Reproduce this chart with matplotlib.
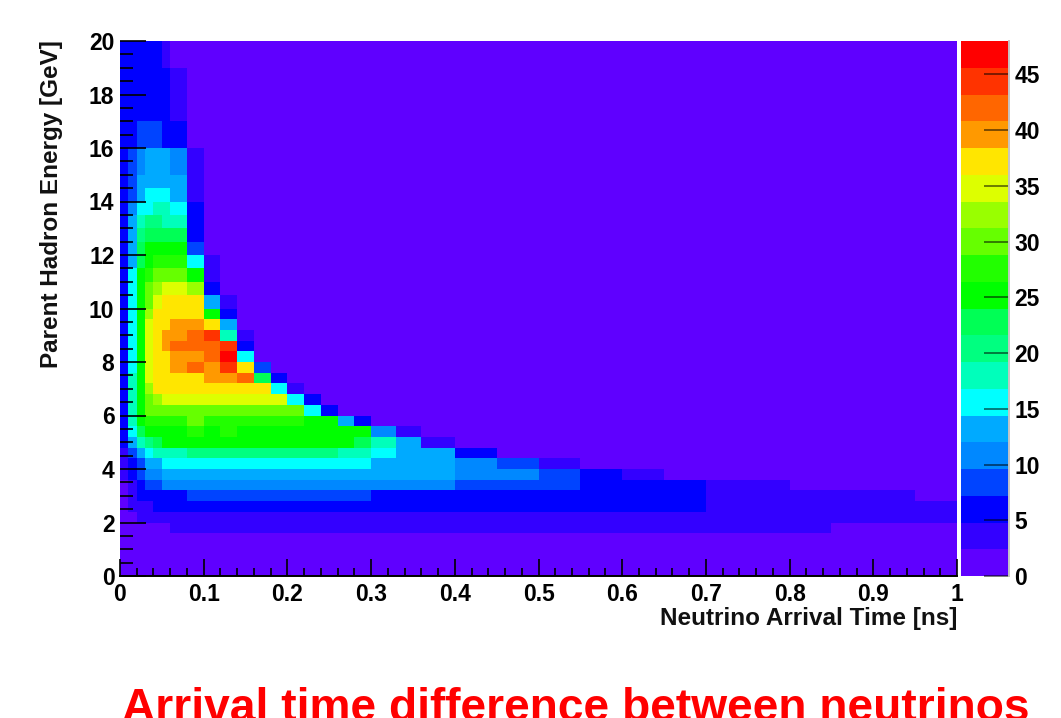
import numpy as np
import matplotlib
matplotlib.use("Agg")
import matplotlib.pyplot as plt
from matplotlib.colors import ListedColormap, BoundaryNorm

plt.rcParams['font.family'] = ['Liberation Sans', 'DejaVu Sans']
plt.rcParams['font.weight'] = 'bold'

W, H = 1061, 718

# bin edges
time_edges = [0, .01, .02, .03, .04, .05, .06, .08, .10, .12, .14, .16, .18, .20, .22, .24, .26,
              .28, .30, .33, .36, .40, .45, .50, .55, .60, .65, .70, .75, .80, .85, .90, .95, 1.0]
energy_edges = [0, 1.2, 1.6, 2.0, 2.4, 2.8, 3.2, 3.6, 4.0, 4.4, 4.8, 5.2, 5.6, 6.0, 6.4, 6.8,
                7.2, 7.6, 8.0, 8.4, 8.8, 9.2, 9.6, 10, 10.5, 11, 11.5, 12, 12.5, 13, 13.5,
                14, 14.5, 15, 16, 17, 18, 19, 20]

# counts per energy row, bottom to top; rows stop at the ridge, beyond it is background
counts = [
    [1],
    [1],
    [1, 1, 1, 1, 2, 2, 3, 3, 3, 3, 3, 3, 3, 3, 3, 3, 3, 3, 3, 3, 3, 3, 3, 3, 3, 3, 3, 3, 3, 3, 2, 2, 2],
    [1, 2, 3, 3, 3, 3, 3, 4, 4, 4, 4, 4, 4, 4, 4, 4, 4, 4, 4, 4, 4, 4, 4, 4, 4, 4, 4, 4, 3, 3, 3, 3, 3],
    [2, 3, 3, 4, 5, 5, 6, 6, 6, 6, 6, 6, 6, 6, 6, 6, 6, 6, 6, 6, 6, 6, 6, 6, 6, 6, 5, 4, 4, 4, 4, 4, 4],
    [2, 3, 5, 6, 6, 7, 7, 8, 8, 8, 8, 8, 8, 8, 8, 8, 8, 8, 7, 7, 7, 7, 7, 6, 6, 6, 5, 4, 4, 4, 4, 3, 1],
    [2, 4, 7, 8, 9, 10, 10, 10, 10, 10, 10, 10, 10, 10, 10, 10, 10, 10, 10, 10, 10, 9, 9, 8, 7, 6, 5, 3, 3],
    [3, 5, 8, 10, 11, 12, 12, 13, 14, 14, 14, 14, 14, 13, 13, 13, 13, 13, 12, 12, 12, 11, 10, 9, 6, 3],
    [3, 6, 9, 12, 13, 15, 16, 16, 16, 16, 16, 16, 16, 16, 16, 16, 15, 15, 14, 14, 12, 11, 9, 4],
    [4, 8, 13, 16, 17, 18, 19, 20, 20, 20, 20, 20, 20, 20, 20, 20, 19, 18, 16, 14, 12, 5],
    [5, 12, 18, 21, 23, 24, 25, 25, 25, 25, 25, 25, 25, 25, 25, 24, 24, 22, 19, 12, 4],
    [6, 15, 22, 25, 25, 26, 26, 27, 26, 27, 26, 26, 26, 26, 26, 25, 24, 24, 10, 3],
    [7, 17, 24, 27, 28, 28, 28, 29, 28, 28, 28, 28, 28, 27, 26, 25, 14, 5],
    [7, 18, 25, 29, 30, 31, 31, 31, 31, 31, 31, 30, 30, 29, 16, 5],
    [7, 17, 25, 31, 33, 34, 34, 34, 35, 34, 35, 34, 34, 15, 5],
    [7, 17, 26, 33, 36, 36, 37, 37, 37, 38, 37, 38, 16, 4],
    [7, 17, 26, 34, 36, 37, 38, 37, 39, 39, 41, 22, 5],
    [7, 16, 26, 34, 37, 37, 39, 41, 40, 44, 38, 8],
    [7, 16, 26, 35, 37, 38, 40, 39, 43, 46, 16],
    [7, 16, 26, 35, 37, 39, 41, 41, 42, 45, 6],
    [7, 16, 26, 34, 37, 39, 40, 42, 45, 18, 3],
    [7, 16, 26, 34, 37, 37, 39, 39, 38, 12],
    [7, 16, 25, 33, 36, 37, 37, 38, 25, 5],
    [7, 15, 25, 31, 35, 36, 36, 38, 12, 3],
    [7, 15, 25, 29, 33, 34, 35, 33, 5],
    [7, 15, 24, 28, 30, 31, 31, 24, 3],
    [6, 14, 23, 26, 28, 28, 28, 16, 3],
    [6, 14, 22, 25, 26, 26, 25, 9],
    [6, 13, 20, 22, 23, 23, 22, 6],
    [5, 12, 18, 20, 20, 19, 18, 5],
    [5, 11, 15, 16, 17, 17, 16, 5],
    [5, 9, 13, 15, 15, 15, 13, 4],
    [5, 8, 12, 13, 13, 13, 12, 3],
    [5, 8, 11, 12, 13, 12, 10, 3],
    [5, 6, 8, 9, 8, 7, 5],
    [5, 6, 7, 7, 7, 6, 4],
    [5, 5, 6, 6, 6, 5, 3],
    [5, 5, 6, 6, 5, 3],
]

palette = ['#5f00ff', '#3300ff', '#0000ff', '#0044ff', '#0088ff', '#00aaff', '#00ffff',
           '#00ffbb', '#00ff80', '#00ff55', '#00ff00', '#22ff00', '#66ff00', '#99ff00',
           '#ddff00', '#ffe600', '#ff9900', '#ff6600', '#ff3300', '#ff0000']
levels = [i * 2.4 for i in range(21)]

time_ticks = [0, .1, .2, .3, .4, .5, .6, .7, .8, .9, 1]
time_labels = ['0', '0.1', '0.2', '0.3', '0.4', '0.5', '0.6', '0.7', '0.8', '0.9', '1']
energy_ticks = [0, 2, 4, 6, 8, 10, 12, 14, 16, 18, 20]
bar_ticks = [0, 5, 10, 15, 20, 25, 30, 35, 40, 45]

# pad the rows with background up to the full width
grid = np.ones((len(counts), len(time_edges) - 1))
for i, row in enumerate(counts):
    grid[i, :len(row)] = row

fig = plt.figure(figsize=(W / 100, H / 100), dpi=100)
ax = fig.add_axes([120 / W, 1 - 576 / H, 837 / W, 535 / H])
cax = fig.add_axes([961 / W, 1 - 576 / H, 48 / W, 535 / H])

cmap = ListedColormap(palette)
norm = BoundaryNorm(levels, cmap.N)
mesh = ax.pcolormesh(time_edges, energy_edges, grid, cmap=cmap, norm=norm)

ax.set_xlim(0, 1)
ax.set_ylim(0, 20)
ax.set_xticks(time_ticks)
ax.set_xticklabels(time_labels)
ax.set_yticks(energy_ticks)
ax.set_xticks(np.arange(0, 1.001, .02), minor=True)
ax.set_yticks(np.arange(0, 20.01, .5), minor=True)
ax.tick_params(axis='x', which='major', direction='in', length=12, width=1.2, labelsize=16.5, pad=5)
ax.tick_params(axis='x', which='minor', direction='in', length=6, width=1.2)
ax.tick_params(axis='y', which='major', direction='in', length=18.5, width=1.2, labelsize=16.5, pad=4)
ax.tick_params(axis='y', which='minor', direction='in', length=9.5, width=1.2)
for side in ['left', 'top', 'right']:
    ax.spines[side].set_visible(False)
ax.spines['bottom'].set_linewidth(1.4)

cbar = fig.colorbar(mesh, cax=cax, ticks=bar_ticks, spacing='proportional')
cbar.outline.set_visible(False)
cax.minorticks_off()
cax.tick_params(direction='in', length=18, width=1.2, color='#00000099', labelsize=16.5, pad=4)
cax.axvline(1, color='#c4c4c4', lw=1.4, clip_on=False)

fig.text(957 / W, 1 - 618 / H, 'Neutrino Arrival Time [ns]', ha='right', va='center', fontsize=17.5, color='#111111')
fig.text(52 / W, 1 - 40 / H, 'Parent Hadron Energy [GeV]', rotation=90, ha='center', va='top', fontsize=17.5, color='#111111')
fig.text(122 / W, -3 / H, 'Arrival time difference between neutrinos', color='red', fontsize=33.2, va='baseline')

fig.savefig('out.png', dpi=100)
